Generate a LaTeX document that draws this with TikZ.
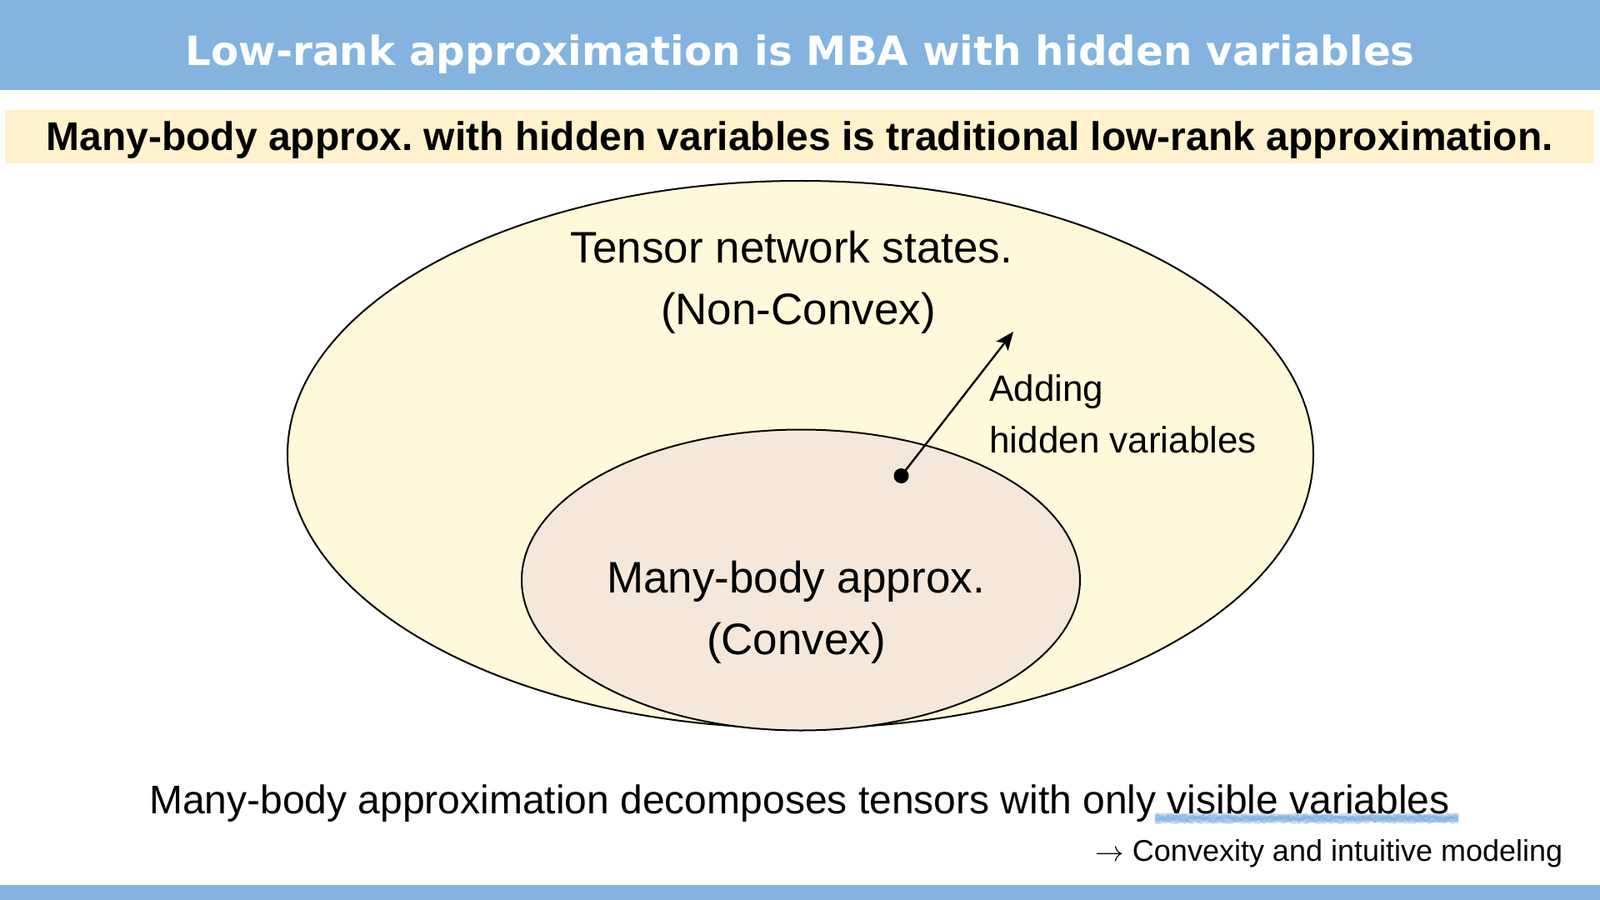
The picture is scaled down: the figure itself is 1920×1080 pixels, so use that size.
\documentclass[tikz,border=0pt]{standalone}
\usepackage{fontspec}
\setmainfont{Liberation Sans}
\newfontfamily\titlefont{DejaVu Sans}
\usetikzlibrary{shapes.geometric,arrows.meta,decorations.pathmorphing}
\definecolor{barblue}{HTML}{84B3E0}
\definecolor{subyellow}{HTML}{FFF2CC}
\definecolor{outerfill}{HTML}{FFF9DB}
\definecolor{innerfill}{HTML}{F5E8DA}
\definecolor{hlblue}{HTML}{7AAEE6}
\tikzset{
  bar/.style={fill=barblue, draw=none, inner sep=0pt, anchor=north west},
  region/.style={ellipse, draw=black, line width=1pt, inner sep=0pt},
  bigtext/.style={anchor=base, inner sep=0pt, font=\fontsize{26.5pt}{30pt}\selectfont},
  midtext/.style={anchor=base west, inner sep=0pt, font=\fontsize{22pt}{26pt}\selectfont},
  hlstroke/.style={hlblue, line width=1.8pt, decorate, decoration={random steps, segment length=1.5pt, amplitude=0.6pt}},
}
\frenchspacing
\begin{document}
\begin{tikzpicture}[x=0.5pt,y=-0.5pt]
\useasboundingbox (0,0) rectangle (1920,1080);
\fill[white] (0,0) rectangle (1920,1080);
% bars
\node[bar, minimum width=960pt, minimum height=54pt] (titlebar) at (0,0) {};
\node[bar, minimum width=960pt, minimum height=9pt] (bottombar) at (0,1062) {};
\node[fill=subyellow, inner sep=0pt, anchor=north west, minimum width=953.5pt, minimum height=32pt] (subbar) at (6,132) {};
% title & subtitle
\node[anchor=base, inner sep=0pt, text=white, font=\titlefont\bfseries\fontsize{24.2pt}{30pt}\selectfont] (title) at (960,79) {Low-rank approximation is MBA with hidden variables};
\node[anchor=base, inner sep=0pt, font=\bfseries\fontsize{24pt}{28pt}\selectfont] (subtitle) at (959.5,181) {Many-body approx. with hidden variables is traditional low-rank approximation.};
% ellipses
\node[region, fill=outerfill, minimum width=615.5pt, minimum height=328.5pt] (outer) at (960.5,545.5) {};
\node[region, fill=innerfill, minimum width=335pt, minimum height=180.5pt] (inner) at (961,696) {};
% ellipse texts
\node[bigtext] (tns) at (950,316) {Tensor network states.};
\node[bigtext] (nonconvex) at (958,389) {(Non-Convex)};
\node[bigtext] (mba) at (955,711) {Many-body approx.};
\node[bigtext] (convex) at (955.5,785) {(Convex)};
% arrow
\node[circle, fill=black, inner sep=0pt, minimum size=9pt] (dot) at (1081.5,571) {};
\coordinate (tip) at (1216,398);
\draw[line width=1.2pt, -{Stealth[length=11pt, width=9pt, inset=2.5pt]}] (dot.center) -- (tip);
\node[midtext] (adding) at (1187,481) {Adding};
\node[midtext] (hidden) at (1187,543) {hidden variables};
% highlight
\coordinate (hlA) at (1386,982);
\coordinate (hlB) at (1750,982);
\foreach \dy/\op in {-4/0.45,-2/0.6,0/0.7,2/0.6,4/0.45}{
  \draw[hlstroke, opacity=\op] ([yshift=\dy*0.5pt]hlA) -- ([yshift=\dy*0.5pt]hlB);
}
% bottom texts
\node[anchor=base, inner sep=0pt, font=\fontsize{24pt}{28pt}\selectfont] (bottom) at (959.5,976) {Many-body approximation decomposes tensors with only visible variables};
\node[anchor=base west, inner sep=0pt, font=\fontsize{18pt}{22pt}\selectfont] (conv) at (1314,1033) {$\rightarrow$ Convexity and intuitive modeling};
\end{tikzpicture}
\end{document}
